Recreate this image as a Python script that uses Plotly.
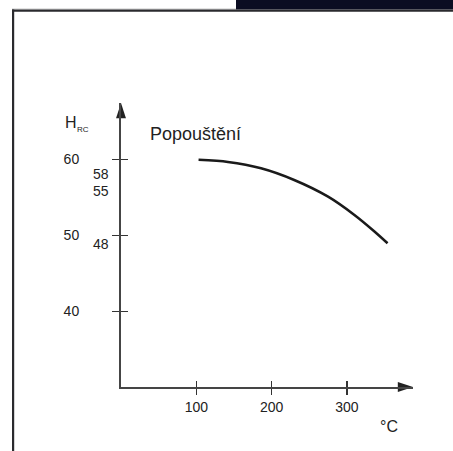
import plotly.graph_objects as go

# ---- data ----
temp_c = [103, 142, 186, 230, 275, 310, 337, 354]
hrc = [59.95, 59.67, 58.83, 57.29, 55.09, 52.68, 50.47, 48.95]

x_tick_vals = [100, 200, 300]
x_tick_text = ["100", "200", "300"]
y_tick_vals = [40, 50, 60]
y_tick_text = ["40", "50", "60"]

curve_labels = ["58", "55", "48"]
curve_label_pos = [58.08, 55.9, 48.8]

x_range = [0, 387.8]
y_range = [30, 67.44]

FONT = "Liberation Sans, Arial, sans-serif"
TXT = "#222222"
AX = "#454545"

fig = go.Figure()

fig.add_trace(go.Scatter(
    x=temp_c, y=hrc, mode="lines",
    line=dict(color="#1a1a1a", width=2.5, shape="spline", smoothing=0.8),
    hoverinfo="skip", showlegend=False,
))

# arrowheads at axis ends
fig.add_trace(go.Scatter(
    x=[x_range[1], 0], y=[y_range[0], y_range[1]], mode="markers",
    marker=dict(symbol="arrow", size=16, angle=[90, 0], color="#222222",
                line=dict(width=0)),
    cliponaxis=False, hoverinfo="skip", showlegend=False,
))

# invisible trace for overlay axes (inner tick halves)
fig.add_trace(go.Scatter(
    x=[x_range[0]], y=[y_range[0]], xaxis="x2", yaxis="y2", mode="markers",
    marker=dict(opacity=0), hoverinfo="skip", showlegend=False,
))

fig.update_layout(
    width=453, height=451,
    margin=dict(l=121, r=40, t=103, b=64),
    paper_bgcolor="white", plot_bgcolor="white",
    font=dict(family=FONT, color=TXT, size=14),
    xaxis=dict(
        range=x_range, showgrid=False, zeroline=False,
        showline=True, linecolor=AX, linewidth=2,
        tickmode="array", tickvals=x_tick_vals, ticktext=x_tick_text,
        ticks="outside", ticklen=6, tickwidth=1.3, tickcolor="#333333",
        tickfont=dict(size=14, color=TXT, family=FONT),
    ),
    yaxis=dict(
        range=y_range, showgrid=False, zeroline=False,
        showline=True, linecolor=AX, linewidth=2,
        tickmode="array", tickvals=y_tick_vals, ticktext=y_tick_text,
        ticks="outside", ticklen=7, tickwidth=1.3, tickcolor="#333333",
        ticklabelstandoff=30,
        tickfont=dict(size=14, color=TXT, family=FONT),
    ),
    xaxis2=dict(
        overlaying="x", anchor="y2", matches="x", range=x_range,
        showgrid=False, zeroline=False, showline=False,
        tickmode="array", tickvals=x_tick_vals,
        ticks="inside", ticklen=6, tickwidth=1.3, tickcolor="#333333",
        showticklabels=False,
    ),
    yaxis2=dict(
        overlaying="y", anchor="x2", matches="y", range=y_range,
        showgrid=False, zeroline=False, showline=False,
        tickmode="array", tickvals=y_tick_vals,
        ticks="inside", ticklen=7, tickwidth=1.3, tickcolor="#333333",
        showticklabels=False,
    ),
    showlegend=False,
)

# labels
fig.add_annotation(text="Popouštění", xref="paper", yref="paper",
                   x=0.0925, y=0.891, xanchor="left", yanchor="middle",
                   showarrow=False, font=dict(size=18, color=TXT, family=FONT))
fig.add_annotation(text="H", xref="paper", yref="paper",
                   x=-0.171, y=0.9296, xanchor="center", yanchor="middle",
                   showarrow=False, font=dict(size=16, color=TXT, family=FONT))
fig.add_annotation(text="RC", xref="paper", yref="paper",
                   x=-0.130, y=0.9067, xanchor="center", yanchor="middle",
                   showarrow=False, font=dict(size=8, color=TXT, family=FONT))
fig.add_annotation(text="°C", xref="paper", yref="paper",
                   x=0.918, y=-0.1408, xanchor="center", yanchor="middle",
                   showarrow=False, font=dict(size=16, color=TXT, family=FONT))
for lab, pos in zip(curve_labels, curve_label_pos):
    fig.add_annotation(text=lab, xref="paper", yref="y",
                       x=-0.0685, y=pos, xanchor="center", yanchor="middle",
                       showarrow=False, font=dict(size=14, color=TXT, family=FONT))

# frame fragments (page border), pixel-based helpers
PLOT_L, PLOT_T, PLOT_W, PLOT_H = 121, 103, 292, 284


def px_x(p):
    return (p - PLOT_L) / PLOT_W


def px_y(p):
    return (PLOT_T + PLOT_H - p) / PLOT_H


def px_rect(x0, x1, y0, y1, color):
    fig.add_shape(type="rect", xref="paper", yref="paper",
                  x0=px_x(x0), x1=px_x(x1), y0=px_y(y1), y1=px_y(y0),
                  fillcolor=color, line=dict(width=0), layer="above")


px_rect(236, 460, -5, 9.5, "#0b0d22")     # dark banner
px_rect(12, 236, 8.5, 9.5, "#c8c8c8")     # thin light rule
px_rect(12, 460, 9.5, 11.7, "#2a2a2e")    # top border
px_rect(12, 14.2, 9.5, 460, "#2a2a2e")    # left border

fig.write_html(
    "out.html",
    config={"displayModeBar": False, "staticPlot": True},
    post_script="document.body.style.margin='0';document.body.style.overflow='hidden';",
)
